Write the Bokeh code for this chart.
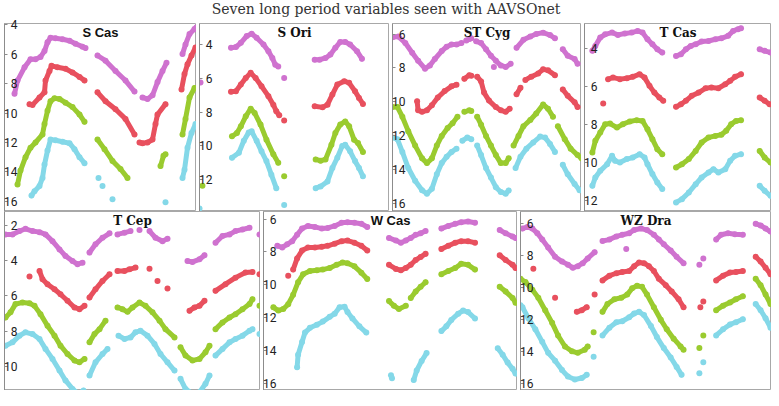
from bokeh.plotting import figure
from bokeh.models import Range1d, FixedTicker, Label
from bokeh.layouts import column, row
from bokeh.embed import file_html
from bokeh.resources import INLINE
from bokeh.core.validation import silence
from bokeh.core.validation.warnings import MISSING_RENDERERS

silence(MISSING_RENDERERS, True)

TITLE = "Seven long period variables seen with AAVSOnet"

# ---- data: segments of (day, magnitude) per star and per colour series ----
S_CAS_PINK = [
    [(10, 8.7), (13, 7.8), (20, 6.9), (26, 6.35), (31, 6.35), (36, 6.2), (40, 5.8), (43, 5.2), (46, 4.9), (51, 4.93), (58, 5.0), (65, 5.1), (71, 5.3), (78, 5.5), (81, 5.6)],
    [(93, 6.1), (101, 6.45), (111, 7.15), (121, 7.8), (130, 8.55)],
    [(138, 8.95), (143, 9.05), (148, 8.8), (153, 7.9), (158, 7.15), (162, 6.6)],
    [(178, 6.0), (181, 5.35), (185, 4.65), (190, 4.3), (192, 4.2)],
]
S_CAS_RED = [
    [(25, 9.4), (28, 9.45), (35, 8.95), (40, 8.6), (41, 7.8), (45, 7.15), (47, 6.8), (53, 6.9), (61, 7.0), (68, 7.25), (75, 7.55), (80, 7.8)],
    [(93, 8.6), (101, 9.2), (111, 9.75), (121, 10.4), (130, 11.45)],
    [(135, 12.0), (138, 12.05), (143, 12.0), (148, 11.8), (151, 10.75), (153, 10.1), (161, 9.4)],
    [(177, 8.4), (180, 7.35), (183, 6.7), (187, 6.1), (191, 5.55)],
]
S_CAS_GREEN = [
    [(13, 14.85), (16, 13.9), (21, 13.0), (26, 12.35), (31, 12.0), (38, 11.45), (40, 10.75), (43, 9.85), (46, 9.2), (50, 9.0), (55, 9.05), (61, 9.3), (68, 9.6), (75, 10.1), (80, 10.6)],
    [(93, 11.8), (100, 12.45), (108, 13.25), (116, 13.8), (123, 14.4)],
    [(156, 13.6), (159, 12.9), (161, 12.8)],
    [(178, 11.45), (181, 10.4), (185, 8.95), (190, 8.3)],
]
S_CAS_CYAN = [
    [(27, 15.6), (30, 15.3), (35, 14.95), (38, 14.4), (40, 13.5), (43, 12.55), (46, 11.8), (51, 11.85), (58, 11.95), (65, 12.05), (70, 12.45), (75, 13.0), (80, 13.4)],
    [(94, 14.4)], [(98, 14.95)], [(108, 15.85)], [(161, 16.05)],
    [(178, 14.4), (180, 13.85), (183, 12.35), (187, 11.35), (191, 10.75)],
]

S_ORI_PINK = [
    [(1, 6.25)],
    [(32, 4.2), (37, 4.15), (42, 3.9), (48, 3.5), (53, 3.37), (58, 3.6), (65, 4.0), (70, 4.4), (74, 4.8), (77, 5.2), (80, 5.3)],
    [(86, 5.98)],
    [(117, 4.9), (122, 4.9), (128, 4.8), (133, 4.6), (138, 4.2), (143, 3.85), (148, 3.85), (153, 4.0), (160, 4.4), (165, 4.85)],
]
S_ORI_RED = [
    [(32, 6.8), (37, 6.77), (42, 6.37), (47, 5.98), (52, 5.68), (57, 5.98), (63, 6.47), (70, 7.06), (75, 7.56), (78, 7.95), (81, 8.19)],
    [(86, 8.5)],
    [(117, 7.66), (125, 7.72), (130, 7.56), (135, 6.96), (140, 6.37), (147, 6.17), (152, 6.27), (158, 6.77), (162, 7.16), (166, 7.52)],
]
S_ORI_GREEN = [
    [(3, 12.35)],
    [(33, 9.43), (38, 9.24), (42, 8.84), (47, 8.25), (52, 7.8), (56, 8.05), (62, 8.74), (68, 9.63), (75, 10.5), (80, 11.0)],
    [(86, 11.8)],
    [(118, 10.8), (123, 10.88), (128, 10.8), (134, 9.93), (138, 9.24), (143, 8.74), (148, 8.55), (152, 8.84), (157, 9.63), (161, 9.83), (166, 10.36)],
]
S_ORI_CYAN = [
    [(0, 13.7)],
    [(33, 10.7), (40, 10.4), (45, 9.7), (50, 9.2), (53, 9.14), (58, 9.7), (63, 10.32), (68, 10.9), (73, 11.7), (78, 12.5)],
    [(86, 13.5)],
    [(118, 12.5), (123, 12.4), (130, 12.1), (135, 11.3), (140, 10.7), (145, 10.0), (148, 9.93), (153, 10.32), (158, 10.9), (162, 11.3), (166, 11.8)],
]

ST_CYG_PINK = [
    [(0, 6.19), (6, 6.15), (13, 6.53), (20, 7.1), (26, 7.57), (33, 8.04), (38, 7.85), (43, 7.47), (50, 7.0), (55, 6.75), (60, 6.62), (65, 6.62), (70, 6.53)],
    [(75, 6.38), (78, 6.3), (80, 6.25)],
    [(85, 6.43), (90, 6.53), (95, 6.9), (100, 7.28), (105, 7.57), (110, 7.85), (115, 7.94), (120, 7.75)],
    [(103, 7.94)],
    [(126, 6.81), (133, 6.34), (140, 6.15), (146, 6.0), (153, 5.92), (160, 6.06), (165, 6.25)],
    [(173, 6.9), (178, 7.28), (185, 7.47), (188, 7.75)],
]
ST_CYG_RED = [
    [(25, 9.96), (26, 10.49), (30, 10.58), (35, 10.49), (40, 10.2), (46, 9.74), (53, 9.36), (60, 9.08), (65, 8.98)],
    [(73, 8.64), (78, 8.42), (80, 8.45)],
    [(86, 8.51), (90, 8.79), (93, 9.45), (98, 9.92), (105, 10.3), (110, 10.49), (115, 10.58), (119, 10.4)],
    [(126, 9.55), (130, 9.17)],
    [(135, 8.7), (141, 8.51), (148, 8.32), (153, 8.08), (158, 8.14), (165, 8.42)],
    [(173, 9.26), (178, 9.64), (185, 10.02), (188, 10.3)],
]
ST_CYG_GREEN = [
    [(0, 10.3), (5, 10.3), (10, 10.87), (16, 11.72), (23, 12.57), (30, 13.32), (35, 13.6), (40, 13.32), (45, 12.57), (50, 12.0), (56, 11.53), (61, 11.25), (66, 10.87)],
    [(73, 10.58), (78, 10.49), (80, 10.53)],
    [(86, 10.87), (90, 11.34), (95, 12.0), (100, 12.57), (105, 13.13), (110, 13.6), (115, 13.6), (118, 13.32)],
    [(123, 12.57), (128, 12.0), (133, 11.43), (140, 11.06), (146, 10.68), (153, 10.15), (158, 10.4), (163, 10.87)],
    [(168, 11.43), (175, 12.19), (181, 12.75), (188, 13.13), (192, 13.32)],
]
ST_CYG_CYAN = [
    [(0, 12.1), (5, 12.19), (10, 12.94), (16, 13.89), (23, 14.64), (30, 15.2), (35, 15.4), (40, 15.11), (45, 14.26), (50, 13.6), (55, 13.23), (60, 12.94), (65, 12.75)],
    [(71, 12.28), (76, 12.1), (80, 12.19)],
    [(86, 12.57), (90, 13.13), (95, 13.89), (100, 14.45), (105, 15.02), (110, 15.3), (115, 15.4), (118, 15.21)],
    [(125, 13.89), (130, 13.23), (136, 12.75), (143, 12.38), (150, 12.04), (155, 12.1), (160, 12.47), (165, 12.94)],
    [(173, 13.7), (178, 14.26), (185, 14.83), (190, 15.2)],
]

T_CAS_PINK = [
    [(8, 4.12), (11, 3.86), (16, 3.42), (21, 3.25), (28, 3.16), (34, 3.28), (41, 3.21), (48, 3.16), (54, 3.07), (59, 3.16), (64, 3.51), (69, 3.77), (74, 4.04), (79, 4.21)],
    [(93, 4.39), (98, 4.3), (103, 4.04), (108, 3.86), (113, 3.77), (119, 3.63), (126, 3.6), (133, 3.51), (139, 3.46), (146, 3.33), (151, 3.07), (156, 2.98), (159, 2.93)],
    [(178, 4.04), (183, 4.12), (189, 4.21)],
]
T_CAS_RED = [
    [(19, 6.89)],
    [(24, 5.61), (29, 5.53), (36, 5.61), (43, 5.56), (49, 5.49), (56, 5.35), (61, 5.53), (66, 5.96), (71, 6.32), (76, 6.58), (80, 6.75)],
    [(93, 7.07), (98, 6.93), (103, 6.75), (109, 6.49), (116, 6.32), (123, 6.09), (129, 6.05), (136, 6.09), (143, 5.88), (148, 5.7), (153, 5.49), (159, 5.35)],
    [(178, 6.58), (183, 6.75), (188, 6.93)],
]
T_CAS_GREEN = [
    [(8, 9.47), (11, 8.86), (16, 8.42), (21, 7.98), (26, 7.95), (33, 8.16), (39, 7.98), (46, 7.84), (53, 7.77), (59, 7.81), (64, 8.25), (69, 8.77), (74, 9.3), (79, 9.56)],
    [(93, 10.26), (99, 10.09), (106, 9.82), (113, 9.39), (119, 8.95), (126, 8.68), (133, 8.6), (139, 8.54), (144, 8.33), (149, 7.98), (154, 7.81), (159, 7.77)],
    [(178, 9.39), (183, 9.74), (189, 10.0)],
]
T_CAS_CYAN = [
    [(8, 11.23), (11, 10.79), (16, 10.44), (23, 10.09), (28, 9.65), (31, 9.91), (36, 10.0), (43, 9.82), (49, 9.74), (56, 9.56), (61, 9.74), (64, 10.09), (69, 10.61), (74, 11.05), (79, 11.4)],
    [(93, 12.1), (99, 11.93), (106, 11.58), (113, 11.14), (119, 10.79), (126, 10.53), (131, 10.35), (136, 10.53), (143, 10.35), (148, 9.91), (153, 9.65), (159, 9.56)],
    [(178, 11.23), (183, 11.49), (189, 11.75)],
]

T_CEP_PINK = [
    [(1, 2.51), (8, 2.51), (15, 2.32), (21, 2.19), (28, 2.32), (35, 2.38), (41, 2.51), (48, 2.89), (55, 3.36), (61, 3.73), (68, 4.02), (73, 4.2), (78, 4.11)],
    [(85, 3.54), (91, 3.07), (98, 2.7), (105, 2.45)],
    [(113, 2.51), (120, 2.41), (126, 2.32)],
    [(135, 2.26)],
    [(145, 2.32), (151, 2.7), (158, 2.89), (163, 2.75)],
    [(183, 4.02), (188, 4.07), (195, 3.92), (200, 3.69)],
    [(211, 2.98), (218, 2.6), (225, 2.51), (231, 2.32), (238, 2.23), (245, 2.13)],
    [(255, 2.51)],
]
T_CEP_RED = [
    [(25, 4.9)],
    [(35, 4.58), (38, 5.05), (43, 5.33), (50, 5.62), (56, 5.9), (63, 6.27), (70, 6.65), (75, 6.75), (80, 6.56)],
    [(85, 6.09), (91, 5.62), (98, 5.15), (105, 4.77)],
    [(113, 4.58), (120, 4.58), (125, 4.49), (131, 4.39)],
    [(145, 4.45)], [(153, 5.15)], [(163, 5.58)],
    [(185, 6.84), (190, 6.65), (195, 6.56), (200, 6.27)],
    [(211, 5.71), (221, 5.33), (231, 4.96), (241, 4.67), (248, 4.64)],
    [(255, 4.77)],
]
T_CEP_GREEN = [
    [(1, 7.22), (6, 6.93), (11, 6.46), (18, 6.37), (25, 6.41), (30, 6.56), (36, 7.03), (43, 7.69), (50, 8.25), (56, 8.82), (63, 9.29), (70, 9.66), (75, 9.76), (80, 9.57)],
    [(85, 8.63), (90, 8.16), (95, 7.88), (101, 7.4)],
    [(113, 6.65), (118, 6.75), (123, 6.9), (128, 6.65), (135, 6.37), (141, 6.56), (148, 6.93), (155, 7.4), (161, 7.88), (170, 8.35)],
    [(176, 8.91), (181, 9.38), (188, 9.66), (195, 9.57), (201, 9.19), (205, 8.82)],
    [(211, 7.88), (218, 7.5), (225, 7.22), (231, 7.03), (238, 6.75), (245, 6.46), (248, 6.18)],
    [(255, 6.56)],
]
T_CEP_CYAN = [
    [(1, 8.82), (8, 8.63), (15, 8.25), (21, 8.06), (28, 8.16), (35, 8.44), (41, 9.0), (48, 9.57), (55, 10.23), (61, 10.79), (68, 11.27), (74, 11.55), (79, 11.36)],
    [(85, 10.51), (91, 9.76), (98, 9.29), (103, 9.0)],
    [(114, 8.25), (120, 8.44), (126, 8.35), (131, 8.06), (136, 7.97), (143, 8.25), (150, 8.72), (156, 9.29), (163, 9.76), (170, 10.23)],
    [(176, 10.7), (181, 11.27), (188, 11.55), (195, 11.46), (201, 10.98), (205, 10.51)],
    [(211, 9.38), (218, 9.0), (225, 8.63), (231, 8.44), (238, 8.25), (245, 7.97), (248, 7.88)],
    [(255, 8.16)],
]

W_CAS_PINK = [
    [(14, 7.63), (19, 7.73), (24, 7.54), (29, 7.35), (34, 6.96), (39, 6.58), (45, 6.42), (52, 6.48), (59, 6.58), (65, 6.54), (72, 6.42), (79, 6.23), (85, 6.19), (92, 6.23), (99, 6.29), (105, 6.48)],
    [(127, 7.15), (134, 7.31), (139, 7.44), (144, 7.31), (149, 7.15), (154, 6.96), (159, 6.87), (164, 6.73)],
    [(180, 6.58), (187, 6.42), (194, 6.29), (200, 6.19), (207, 6.15), (214, 6.23)],
    [(239, 6.67), (245, 6.87), (252, 7.06), (255, 7.15)],
]
W_CAS_RED = [
    [(25, 9.46)],
    [(30, 9.08), (34, 8.4), (39, 7.92), (45, 7.73), (52, 7.73), (59, 7.69), (65, 7.63), (72, 7.5), (79, 7.35), (85, 7.31), (92, 7.44), (99, 7.63), (105, 7.92)],
    [(127, 8.79), (134, 9.04), (139, 9.12), (144, 8.98), (149, 8.79), (154, 8.5), (159, 8.31), (164, 8.12)],
    [(180, 7.83), (187, 7.63), (194, 7.44), (200, 7.35), (207, 7.35), (214, 7.44)],
    [(239, 8.21), (245, 8.5), (252, 8.79), (255, 8.98)],
]
W_CAS_GREEN = [
    [(10, 11.38), (15, 11.58), (20, 11.48), (25, 11.19), (30, 10.62), (35, 9.85), (40, 9.37), (47, 9.17), (54, 9.12), (60, 9.08), (67, 8.98), (74, 8.79), (80, 8.65), (85, 8.69), (92, 8.88), (99, 9.27), (105, 9.65)],
    [(127, 11.0), (132, 11.29), (137, 11.48), (144, 11.29)],
    [(149, 10.81), (154, 10.42), (159, 10.13), (164, 9.85)],
    [(180, 9.37), (187, 9.17), (194, 8.98), (200, 8.73), (207, 8.79), (214, 9.08)],
    [(239, 10.13), (245, 10.42), (252, 10.81), (255, 11.1)],
]
W_CAS_CYAN = [
    [(34, 15.04), (35, 14.27), (39, 13.5), (42, 12.92), (47, 12.63), (54, 12.44), (60, 12.25), (67, 11.96), (72, 11.77), (77, 11.38), (82, 11.35), (85, 11.67), (90, 12.06), (97, 12.54), (104, 12.92)],
    [(129, 15.52)], [(130, 15.71)],
    [(152, 15.81), (155, 15.23), (160, 14.65), (165, 14.17)],
    [(180, 12.83), (185, 12.54), (190, 12.15), (197, 11.77), (202, 11.58), (207, 11.67), (214, 12.06)],
    [(237, 13.88), (242, 14.27), (247, 14.75), (252, 15.13), (255, 15.42)],
]

WZ_DRA_PINK = [
    [(2, 6.3), (7, 6.2), (12, 6.3), (17, 6.59), (22, 6.99), (28, 7.48), (35, 8.07), (42, 8.37), (48, 8.56), (53, 8.76), (58, 8.66), (63, 8.47), (68, 8.17), (75, 7.78)],
    [(83, 7.08), (90, 6.99), (97, 6.79), (103, 6.69), (110, 6.59), (115, 6.39), (122, 6.3), (128, 6.39), (135, 6.69), (140, 6.99), (145, 7.28), (152, 7.68), (158, 8.07), (165, 8.47)],
    [(107, 7.58)], [(181, 8.56)], [(185, 8.17)],
    [(198, 6.99), (203, 6.69), (210, 6.59), (217, 6.65), (225, 6.69)],
    [(238, 6.0), (243, 6.1), (248, 6.3), (253, 6.49)],
]
WZ_DRA_RED = [
    [(13, 8.82)], [(35, 10.64)],
    [(57, 11.52), (62, 11.42), (67, 11.23)],
    [(75, 10.44)],
    [(83, 9.55), (90, 9.25), (97, 9.1), (103, 9.02), (110, 8.96), (115, 8.66), (120, 8.43), (125, 8.47), (130, 8.66), (135, 8.96), (140, 9.45), (147, 9.85), (153, 10.24), (160, 10.73), (165, 11.23)],
    [(182, 11.23)], [(185, 10.87)],
    [(198, 9.55), (205, 9.25), (212, 9.06), (218, 9.02), (225, 8.96)],
    [(238, 8.07), (243, 8.37), (248, 8.76), (253, 9.16)],
]
WZ_DRA_GREEN = [
    [(0, 9.45), (5, 9.65), (12, 10.14), (18, 10.64), (25, 11.42), (32, 12.21), (38, 13.0), (45, 13.69), (52, 13.99), (58, 14.09), (65, 13.89), (68, 13.69)],
    [(74, 12.8)],
    [(83, 11.52), (88, 11.03), (95, 10.73), (102, 10.64), (108, 10.44), (113, 10.04), (118, 9.89), (123, 9.95), (128, 10.44), (135, 11.23), (142, 12.02), (148, 12.61), (155, 13.2), (162, 13.69), (165, 13.89)],
    [(181, 13.79)], [(185, 13.0)],
    [(198, 11.42), (205, 11.13), (212, 10.93), (218, 10.73), (225, 10.54)],
    [(238, 9.45), (243, 9.85), (248, 10.44), (253, 11.03)],
]
WZ_DRA_CYAN = [
    [(0, 11.1), (2, 11.23), (8, 11.92), (15, 12.61), (22, 13.4), (28, 14.09), (35, 14.58), (42, 15.17), (48, 15.57), (55, 15.76), (62, 15.67), (67, 15.47)],
    [(74, 14.34)],
    [(83, 13.0), (90, 12.51), (97, 12.17), (103, 12.11), (110, 11.86), (115, 11.62), (120, 11.52), (125, 11.72), (132, 12.41), (138, 13.1), (145, 13.79), (152, 14.38), (158, 14.97), (163, 15.47)],
    [(181, 15.37)], [(185, 14.68)],
    [(198, 13.0), (205, 12.61), (212, 12.31), (218, 12.17), (225, 11.98)],
    [(238, 11.03), (243, 11.42), (248, 11.92), (253, 12.51)],
]

# tick labels (magnitudes) per panel
S_CAS_TICKS = [4, 6, 8, 10, 12, 14, 16]
S_ORI_TICKS = [4, 6, 8, 10, 12]
ST_CYG_TICKS = [6, 8, 10, 12, 14, 16]
T_CAS_TICKS = [4, 6, 8, 10, 12]
T_CEP_TICKS = [2, 4, 6, 8, 10]
W_CAS_TICKS = [6, 8, 10, 12, 14, 16]
WZ_DRA_TICKS = [6, 8, 10, 12, 14, 16]

# ---- styling ----
PINK, RED, GREEN, CYAN = "#cf72cf", "#e8505e", "#9acb2f", "#84d8e8"
AXIS_GREY = "#8c8c8c"
FRAME_GREY = "#a8a8a8"
SERIF_BOLD = "DejaVu Serif"
SANS_BOLD = "Liberation Sans"

# name, series, ticks, (faint, bright) y-limits, day span, fig width, left border, title font
TOP = [
    ("S Cas", (S_CAS_PINK, S_CAS_RED, S_CAS_GREEN, S_CAS_CYAN), S_CAS_TICKS, (16.68, 3.93), 192, 196, 4, SANS_BOLD, "13px"),
    ("S Ori", (S_ORI_PINK, S_ORI_RED, S_ORI_GREEN, S_ORI_CYAN), S_ORI_TICKS, (13.88, 2.76), 193, 193, 0, SERIF_BOLD, "12px"),
    ("ST Cyg", (ST_CYG_PINK, ST_CYG_RED, ST_CYG_GREEN, ST_CYG_CYAN), ST_CYG_TICKS, (16.45, 5.38), 192, 192, 0, SERIF_BOLD, "12px"),
    ("T Cas", (T_CAS_PINK, T_CAS_RED, T_CAS_GREEN, T_CAS_CYAN), T_CAS_TICKS, (12.58, 2.68), 190, 190, 0, SERIF_BOLD, "12px"),
]
BOTTOM = [
    ("T Cep", (T_CEP_PINK, T_CEP_RED, T_CEP_GREEN, T_CEP_CYAN), T_CEP_TICKS, (11.36, 1.21), 256, 260, 4, SERIF_BOLD, "12px"),
    ("W Cas", (W_CAS_PINK, W_CAS_RED, W_CAS_GREEN, W_CAS_CYAN), W_CAS_TICKS, (16.45, 5.54), 257, 257, 0, SANS_BOLD, "13px"),
    ("WZ Dra", (WZ_DRA_PINK, WZ_DRA_RED, WZ_DRA_GREEN, WZ_DRA_CYAN), WZ_DRA_TICKS, (16.45, 5.23), 254, 254, 0, SERIF_BOLD, "12px"),
]


def draw_series(p, segs, color):
    lines = [s for s in segs if len(s) > 1]
    if lines:
        p.multi_line([[pt[0] for pt in s] for s in lines],
                     [[pt[1] for pt in s] for s in lines],
                     line_color=color, line_width=5, line_cap="round", line_join="round")
    p.scatter([pt[0] for s in segs for pt in s], [pt[1] for s in segs for pt in s],
              size=6, fill_color=color, line_color=None)


def panel(spec, frame_height, border_top):
    name, series, ticks, ylim, span, width, left, font, fsize = spec
    p = figure(width=width, height=frame_height + border_top, x_range=Range1d(0, span),
               y_range=Range1d(ylim[0], ylim[1]), x_axis_location=None,
               toolbar_location=None, output_backend="svg",
               min_border_left=left, min_border_right=0, min_border_top=border_top,
               min_border_bottom=0,
               background_fill_color="white", border_fill_color="white",
               outline_line_color=FRAME_GREY, outline_line_width=1)
    p.grid.visible = False
    ax = p.yaxis[0]
    ax.ticker = FixedTicker(ticks=ticks)
    ax.major_tick_in = 3
    ax.major_tick_out = 0
    ax.minor_tick_line_color = None
    ax.major_label_standoff = -13
    ax.axis_line_color = AXIS_GREY
    ax.major_tick_line_color = AXIS_GREY
    ax.major_label_text_font = "Roboto"
    ax.major_label_text_font_size = "12px"
    ax.major_label_text_color = "#222222"
    pink, red, green, cyan = series
    for segs, color in ((cyan, CYAN), (green, GREEN), (red, RED), (pink, PINK)):
        draw_series(p, segs, color)
    p.add_layout(Label(x=span / 2, y=ylim[1], text=name, text_align="center",
                       text_baseline="middle", y_offset=-9, text_font=font,
                       text_font_style="bold", text_font_size=fsize, text_color="#111111"))
    return p


head = figure(width=771, height=17, x_range=Range1d(0, 1), y_range=Range1d(0, 1),
              x_axis_location=None, y_axis_location=None, toolbar_location=None,
              output_backend="svg", outline_line_color=None, min_border=0,
              background_fill_color="white", border_fill_color="white")
head.grid.visible = False
head.add_layout(Label(x=0.5, y=1, text=TITLE, text_align="center", text_baseline="top",
                      y_offset=0, text_font="DejaVu Serif", text_font_size="14px",
                      text_color="#333333"))

top_row = row([panel(s, 188, 6) for s in TOP])
bottom_row = row([panel(s, 179, 0) for s in BOTTOM])
layout = column(head, top_row, bottom_row)

open("out.html", "w").write(file_html(layout, INLINE))
